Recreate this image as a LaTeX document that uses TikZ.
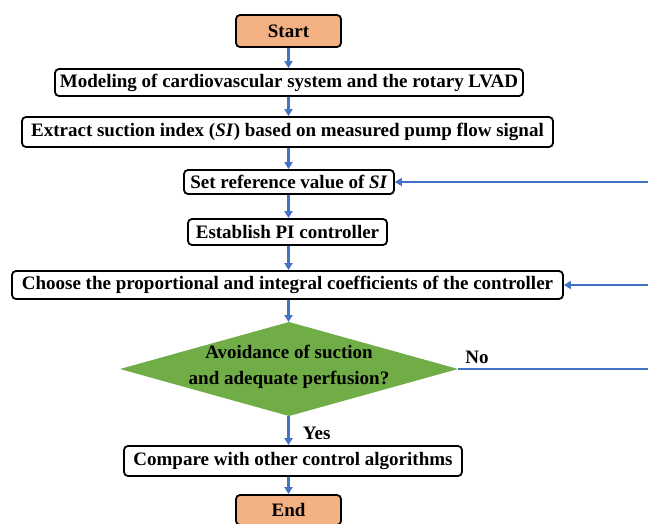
\documentclass[tikz,border=0pt]{standalone}
\usepackage{fontspec}
\setmainfont{Liberation Serif}
\usetikzlibrary{arrows.meta}
\definecolor{startorange}{RGB}{244,177,131}
\definecolor{checkgreen}{RGB}{112,173,71}
\definecolor{flowblue}{RGB}{68,114,196}
\begin{document}
\begin{tikzpicture}[x=1pt,y=-1pt,
  font=\fontsize{19}{22}\selectfont\bfseries,
  stepbox/.style={draw, line width=1.8pt, rounded corners=4pt, fill=white, inner sep=0pt, minimum height=27pt},
  endbox/.style={stepbox, fill=startorange, minimum width=105pt, minimum height=32pt},
  flow/.style={-{Triangle[length=7pt,width=8pt]}, draw=flowblue, line width=2.2pt}]
\useasboundingbox (0,0) rectangle (648,524);

\node[endbox] (start) at (288.5,31) {Start};
\node[stepbox, minimum width=468pt] (model) at (289,82.5) {Modeling of cardiovascular system and the rotary LVAD};
\node[stepbox, minimum width=531pt, minimum height=30pt] (extract) at (287.5,132) {Extract suction index (\textit{SI}) based on measured pump flow signal};
\node[stepbox, minimum width=210pt, minimum height=24pt] (ref) at (289,182) {Set reference value of \textit{SI}};
\node[stepbox, minimum width=199pt, minimum height=26pt] (pi) at (287.5,232) {Establish PI controller};
\node[stepbox, minimum width=551pt, minimum height=28pt] (coef) at (287.5,285) {Choose the proportional and integral coefficients of the controller};

% decision diamond
\fill[checkgreen] (120,369) coordinate (checkwest) -- (289,322) coordinate (checktop)
  -- (458,369) coordinate (checkeast) -- (289,416) coordinate (checkbottom) -- cycle;
\node[align=center, font=\fontsize{19}{26}\selectfont\bfseries] (check) at (289,367) {Avoidance of suction\\and adequate perfusion?};

\node[stepbox, minimum width=338pt, minimum height=30pt] (compare) at (293,461) {Compare with other control algorithms};
\node[endbox, minimum height=30pt] (end) at (288.5,510) {End};

\coordinate (refin) at (648,182);
\coordinate (coefin) at (648,285);
\coordinate (noout) at (648,369);

\draw[flow] (start.south) -- (start.south |- model.north);
\draw[flow] (start.south |- model.south) -- (start.south |- extract.north);
\draw[flow] (start.south |- extract.south) -- (start.south |- ref.north);
\draw[flow] (start.south |- ref.south) -- (start.south |- pi.north);
\draw[flow] (start.south |- pi.south) -- (start.south |- coef.north);
\draw[flow] (start.south |- coef.south) -- (start.south |- checktop);
\draw[flow] (start.south |- checkbottom) -- node[right, black, xshift=10pt, yshift=-3pt] {Yes} (start.south |- compare.north);
\draw[flow] (start.south |- compare.south) -- (end);

\draw[flow] (refin) -- (ref.east);
\draw[flow] (coefin) -- (coef.east);
\draw[draw=flowblue, line width=2.2pt] (checkeast) -- node[above, black, pos=0.1, yshift=1pt] {No} (noout);
\end{tikzpicture}
\end{document}
